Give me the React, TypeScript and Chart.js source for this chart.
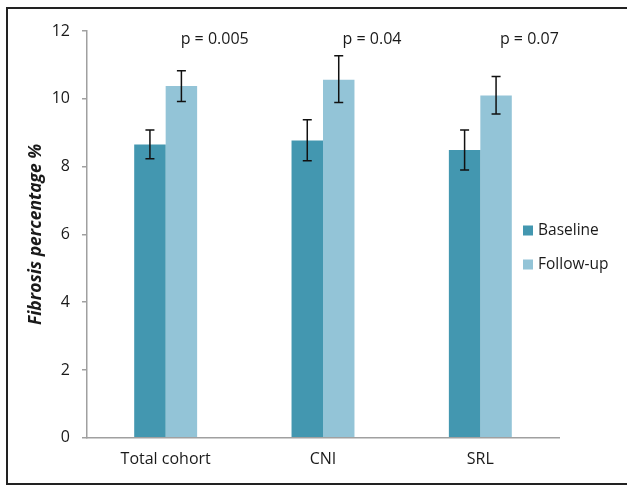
import React, { useEffect, useRef } from "react";
import { Chart, registerables } from "chart.js";

Chart.register(...registerables);

const categories = ["Total cohort", "CNI", "SRL"];
const seriesNames = ["Baseline", "Follow-up"];
const baselineValues = [8.65, 8.77, 8.49];
const baselineLow = [8.23, 8.17, 7.9];
const baselineHigh = [9.08, 9.38, 9.08];
const followupValues = [10.38, 10.56, 10.1];
const followupLow = [9.92, 9.89, 9.55];
const followupHigh = [10.83, 11.27, 10.66];
const pLabels = ["p = 0.005", "p = 0.04", "p = 0.07"];
const yTicks = [0, 2, 4, 6, 8, 10, 12];

const colors = ["#4397b0", "#93c4d7"];
const FONT = "'Open Sans', sans-serif";

const errorBarPlugin = {
  id: "errorBars",
  afterDatasetsDraw(chart: any) {
    const ctx = chart.ctx;
    const y = chart.scales.y;
    const lows = [baselineLow, followupLow];
    const highs = [baselineHigh, followupHigh];
    ctx.save();
    ctx.strokeStyle = "#111";
    ctx.lineWidth = 1.5;
    chart.data.datasets.forEach((ds: any, di: number) => {
      const meta = chart.getDatasetMeta(di);
      meta.data.forEach((el: any, i: number) => {
        const x = el.x;
        const yl = y.getPixelForValue(lows[di][i]);
        const yh = y.getPixelForValue(highs[di][i]);
        ctx.beginPath();
        ctx.moveTo(x, yl);
        ctx.lineTo(x, yh);
        ctx.moveTo(x - 4.5, yl);
        ctx.lineTo(x + 4.5, yl);
        ctx.moveTo(x - 4.5, yh);
        ctx.lineTo(x + 4.5, yh);
        ctx.stroke();
      });
    });
    ctx.restore();
  },
};

const annotationPlugin = {
  id: "pLabels",
  afterDraw(chart: any) {
    const ctx = chart.ctx;
    const xs = chart.scales.x;
    const ys = chart.scales.y;
    ctx.save();
    ctx.fillStyle = "#1a1a1a";
    ctx.font = `16px ${FONT}`;
    ctx.textAlign = "center";
    ctx.textBaseline = "middle";
    pLabels.forEach((t, i) => {
      ctx.fillText(t, xs.getPixelForValue(i) + 49, ys.getPixelForValue(11.75));
    });
    // legend
    ctx.textAlign = "left";
    ctx.font = `15.5px ${FONT}`;
    seriesNames.forEach((name, i) => {
      const cy = 230.5 + i * 34;
      ctx.fillStyle = colors[i];
      ctx.fillRect(523, cy - 5, 10, 10);
      ctx.fillStyle = "#1a1a1a";
      ctx.fillText(name, 538, cy + 0.5);
    });
    ctx.restore();
  },
};

export default function App() {
  const ref = useRef<HTMLCanvasElement>(null);
  useEffect(() => {
    if (!ref.current) return;
    const chart = new Chart(ref.current, {
      type: "bar",
      data: {
        labels: categories,
        datasets: [
          {
            label: seriesNames[0],
            data: baselineValues,
            backgroundColor: colors[0],
            categoryPercentage: 0.4,
            barPercentage: 1,
          },
          {
            label: seriesNames[1],
            data: followupValues,
            backgroundColor: colors[1],
            categoryPercentage: 0.4,
            barPercentage: 1,
          },
        ],
      },
      options: {
        animation: false,
        responsive: false,
        devicePixelRatio: 1,
        layout: { padding: { left: 25.5, right: 68, top: 31, bottom: 4 } },
        plugins: { legend: { display: false }, tooltip: { enabled: false } },
        scales: {
          x: {
            grid: { display: false, drawTicks: false },
            border: { color: "#a0a0a0", width: 1.5 },
            ticks: { color: "#1a1a1a", font: { family: FONT, size: 16 }, padding: 12 },
          },
          y: {
            min: 0,
            max: 12,
            afterBuildTicks: (s: any) => {
              s.ticks = yTicks.map((v) => ({ value: v }));
            },
            afterFit: (s: any) => {
              s.width = 61.5;
            },
            grid: { drawOnChartArea: false, drawTicks: true, tickLength: 5, color: "#a0a0a0", lineWidth: 1.5 },
            border: { color: "#a0a0a0", width: 1.5 },
            ticks: { color: "#1a1a1a", font: { family: FONT, size: 16 }, padding: 12 },
            title: {
              display: true,
              text: "Fibrosis percentage %",
              color: "#1a1a1a",
              font: { family: FONT, size: 17.5, weight: "bold", style: "italic" },
              padding: { top: 0, bottom: 0 },
            },
          },
        },
      },
      plugins: [errorBarPlugin, annotationPlugin],
    });
    return () => chart.destroy();
  }, []);
  return (
    <div
      style={{
        position: "absolute",
        left: 0,
        top: 0,
        width: 627,
        height: 485,
        overflow: "hidden",
        background: "#fff",
      }}
    >
      <canvas ref={ref} width={627} height={485} style={{ position: "absolute", left: 0, top: 0 }} />
      <div
        style={{
          position: "absolute",
          left: 6,
          top: 7,
          width: 680,
          height: 474,
          border: "2px solid #222",
          pointerEvents: "none",
        }}
      />
    </div>
  );
}
